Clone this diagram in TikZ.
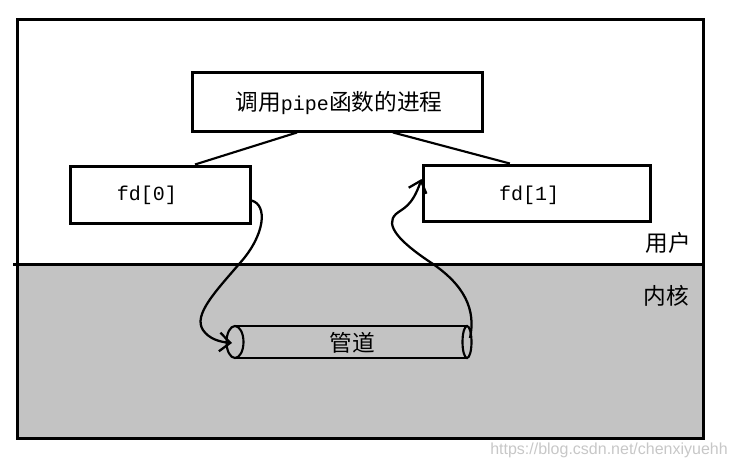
\documentclass[tikz,border=0pt]{standalone}
\usepackage{fontspec}
\setmainfont{Liberation Serif}
\setmonofont{Liberation Mono}
\newfontfamily\cjk{Noto Sans CJK SC}
\newfontfamily\wmfont{Liberation Sans}
\usetikzlibrary{arrows.meta}

\definecolor{kernelgray}{RGB}{195,195,195}
\tikzset{every picture/.style={line width=0.75pt}}
\tikzset{
  box/.style={draw, line width=2.25pt, inner sep=0pt},
  cjktext/.style={inner sep=0.75pt, font=\cjk\fontsize{17pt}{20pt}\selectfont},
  codetext/.style={inner sep=0.75pt, font=\ttfamily\fontsize{15pt}{18pt}\selectfont},
  link/.style={line width=1.6pt},
  barb/.style={line width=1.7pt, -{Straight Barb[length=8pt,width=14pt,line width=1.7pt]}}
}

\begin{document}
\begin{tikzpicture}[x=0.75pt,y=0.75pt,yscale=-1,xscale=1]
	\useasboundingbox (0,0) rectangle (735,465);
	
	%Shape: Kernel area
	\fill [kernelgray] (17,264) rectangle (703,438);
	%Shape: Outer frame
	\draw [line width=2.25pt] (17,19) rectangle (703,438);
	%Straight Lines: user / kernel border
	\draw [line width=2.25pt] (13,264) -- (703,264);
	
	%Shape: Rectangle
	\node [box, minimum width=217.5pt, minimum height=44.25pt] (proc) at (337,101.5) {};
	%Shape: Rectangle
	\node [box, minimum width=135pt, minimum height=42.75pt] (fd0) at (160,194.5) {};
	%Shape: Rectangle
	\node [box, minimum width=170.25pt, minimum height=42pt] (fd1) at (536.5,193) {};
	
	% Text Node
	\node [cjktext] (proclabel) at (339,103) {调用{\ttfamily\fontsize{15pt}{18pt}\selectfont pipe}函数的进程};
	% Text Node
	\node [codetext] (fd0label) at (147,195) {fd[0]};
	% Text Node
	\node [codetext] (fd1label) at (529,195) {fd[1]};
	
	%Straight Lines
	\draw [link] ([xshift=-30pt]proc.south) -- ([xshift=26.25pt]fd0.north);
	%Straight Lines
	\draw [link] ([xshift=42pt]proc.south) -- ([xshift=-20pt]fd1.north);
	
	%Shape: Pipe
	\coordinate (pipeL) at (235,342);
	\coordinate (pipeR) at (467,342);
	\draw [link] (pipeL) ellipse (8.5 and 16);
	\draw [link] (pipeR) ellipse (4.5 and 16);
	\draw [link] (235,326) -- (467,326);
	\draw [link] (235,358) -- (467,358);
	% Text Node
	\node [cjktext] (pipelabel) at (352,343) {管道};
	
	%Curve Lines
	\coordinate (inL) at (232,343);
	\draw [barb] ([yshift=4.5pt]fd0.east) .. controls (268,205) and (265,235) .. (240,263) .. controls (215,292) and (193,315) .. (203,330) .. controls (209,339) and (220,342) .. (inL);
	%Curve Lines
	\coordinate (outR) at (470,338);
	\draw [barb] (outR) .. controls (476,310) and (465,285) .. (430,262) .. controls (400,242) and (384,225) .. (396,214) .. controls (403,208) and (412,207) .. ([yshift=-10.5pt]fd1.west);
	
	% Text Node
	\node [cjktext] (userlabel) at (668,243) {用户};
	% Text Node
	\node [cjktext] (kernellabel) at (666,296) {内核};
	% Text Node
	\node [inner sep=0pt, text=black!22, font=\wmfont\fontsize{12pt}{14pt}\selectfont] (mark) at (609,450) {https://blog.csdn.net/chenxiyuehh};
	
\end{tikzpicture}
\end{document}
